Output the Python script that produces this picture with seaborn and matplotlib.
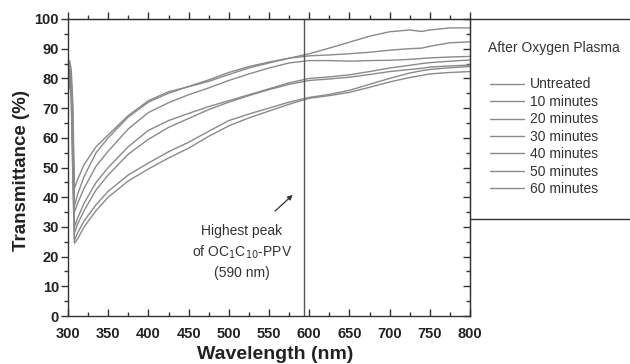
import numpy as np
import pandas as pd
import matplotlib
matplotlib.use("Agg")
import matplotlib.pyplot as plt
from matplotlib.lines import Line2D
from matplotlib.ticker import MultipleLocator
import seaborn as sns

wavelength = [300, 302, 304, 306, 308, 312, 320, 335, 350, 375, 400, 425, 450, 475,
              500, 525, 550, 575, 600, 625, 650, 675, 700, 725, 740, 750, 775, 800]

untreated = [84, 86, 83, 72, 43, 46, 51, 57, 61, 67.5, 72.5, 75.5, 77.2, 79,
             81.3, 83.5, 85.2, 86.8, 88.3, 90.2, 92.2, 94.2, 95.7, 96.3, 95.8, 96.3, 97, 97]
min10 = [80, 83, 79, 65, 37, 41, 47, 55, 60, 67, 72, 75, 77.3, 79.5,
         82, 84, 85.5, 86.8, 87.6, 87.9, 88.3, 88.8, 89.5, 90, 90.2, 90.8, 92, 92.3]
min20 = [78, 80, 76, 60, 35, 38, 43, 50.5, 55.5, 63, 68.5, 71.8, 74.5, 76.8,
         79.3, 81.5, 83.5, 85.2, 86, 86, 85.8, 86, 86.1, 86.4, 86.7, 86.9, 87.2, 87.4]
min30 = [85, 84, 80, 68, 30, 33, 38, 45, 50, 57, 62.5, 65.8, 68.2, 70.5,
         72.5, 74.5, 76.5, 78.5, 80, 80.5, 81.2, 82.3, 83.5, 84.4, 85, 85.3, 85.8, 86.2]
min40 = [79, 81, 77, 55, 28, 31, 35.5, 42.5, 47.5, 54.5, 59.5, 63.5, 66.5, 69.5,
         72, 74.2, 76.2, 78, 79.3, 79.8, 80.4, 81.3, 82.3, 83, 83.4, 83.8, 84.2, 84.5]
min50 = [76, 78, 74, 50, 25.5, 28, 32, 37.5, 42, 47.5, 51.5, 55.3, 58.5, 62.2,
         65.8, 68, 70, 72, 73.6, 74.6, 76, 78, 80, 81.8, 82.6, 83, 83.6, 84]
min60 = [82, 79, 75, 45, 24.5, 26, 30, 35.5, 40, 45.5, 49.5, 53.2, 56.5, 60.5,
         64, 66.7, 69, 71.3, 73.3, 74.2, 75.3, 77, 78.8, 80.3, 81, 81.5, 82, 82.3]

labels = ["Untreated", "10 minutes", "20 minutes", "30 minutes",
          "40 minutes", "50 minutes", "60 minutes"]
series = [untreated, min10, min20, min30, min40, min50, min60]

peak_nm = 594
x_ticks = [300, 350, 400, 450, 500, 550, 600, 650, 700, 750, 800]
y_ticks = [0, 10, 20, 30, 40, 50, 60, 70, 80, 90, 100]

rows = []
for lab, vals in zip(labels, series):
    for w, v in zip(wavelength, vals):
        rows.append({"Wavelength": w, "T": v, "Treatment": lab})
df = pd.DataFrame(rows)

sns.set_style("white")
plt.rcParams["font.family"] = ["Liberation Sans", "DejaVu Sans"]

W, H = 630, 364
fig = plt.figure(figsize=(W / 100, H / 100), dpi=100)
ax = fig.add_axes([68 / W, 1 - 316 / H, (470 - 68) / W, (316 - 19) / H])

palette = {lab: "#8a8a8a" for lab in labels}
sns.lineplot(data=df, x="Wavelength", y="T", hue="Treatment", palette=palette,
             hue_order=labels, estimator=None, sort=False, linewidth=1.0, ax=ax,
             legend=False)

ax.axvline(peak_nm, color="#555555", linewidth=1.0)

ax.set_xlim(300, 800)
ax.set_ylim(0, 100)
ax.set_xticks(x_ticks)
ax.set_yticks(y_ticks)
ax.xaxis.set_minor_locator(MultipleLocator(25))
ax.yaxis.set_minor_locator(MultipleLocator(5))
for sp in ax.spines.values():
    sp.set_color("#333333")
    sp.set_linewidth(1.0)

ax.tick_params(axis="x", which="both", bottom=True, top=False, direction="in",
               colors="#333333", labelcolor="#222222", labelsize=10.5, pad=8)
ax.tick_params(axis="y", which="both", left=True, right=False, direction="out",
               colors="#333333", labelcolor="#222222", labelsize=10.5, pad=1.5)
ax.tick_params(which="major", length=5, width=1)
ax.tick_params(which="minor", length=3, width=1)
for lab in ax.get_xticklabels() + ax.get_yticklabels():
    lab.set_fontweight("bold")

# top axis: ticks outward, no labels
secx = ax.secondary_xaxis("top")
secx.set_xticks(x_ticks)
secx.xaxis.set_minor_locator(MultipleLocator(25))
secx.tick_params(which="both", direction="out", labeltop=False, colors="#333333", width=1)
secx.tick_params(which="major", length=5)
secx.tick_params(which="minor", length=3)
secx.spines["top"].set_color("#333333")

# right axis: ticks inward, no labels
secy = ax.secondary_yaxis("right")
secy.set_yticks(y_ticks)
secy.yaxis.set_minor_locator(MultipleLocator(5))
secy.tick_params(which="both", direction="in", labelright=False, colors="#333333", width=1)
secy.tick_params(which="major", length=5)
secy.tick_params(which="minor", length=3)
secy.spines["right"].set_color("#333333")

ax.set_xlabel("Wavelength (nm)", fontsize=14, fontweight="bold", color="#222222")
ax.set_ylabel("Transmittance (%)", fontsize=13.5, fontweight="bold", color="#222222")
ax.xaxis.set_label_coords(0.515, -0.131)
ax.xaxis.label.set_va("center")
ax.yaxis.set_label_coords(-0.115, 0.49)
ax.yaxis.label.set_va("center")

ax.text(516, 21.5, "Highest peak\nof OC$_1$C$_{10}$-PPV\n(590 nm)", ha="center", va="center",
        fontsize=10, color="#333333", linespacing=1.45, transform=ax.transData,
        multialignment="center")
ax.annotate("", xy=(582, 41.4), xytext=(555, 34.7),
            arrowprops=dict(arrowstyle="-|>", color="#333333", lw=0.9,
                            mutation_scale=7))

# legend box
fig.add_artist(Line2D([470 / W, 1.0], [1 - 19 / H, 1 - 19 / H], color="#333333", lw=1.0))
fig.add_artist(Line2D([470 / W, 1.0], [1 - 219 / H, 1 - 219 / H], color="#333333", lw=1.0))
fig.text(488 / W, 1 - 48 / H, "After Oxygen Plasma", ha="left", va="center",
         fontsize=10, color="#333333")

handles = [Line2D([], [], color="#8a8a8a", lw=1.0) for _ in labels]
fig.legend(handles, labels, loc="upper left", bbox_to_anchor=(483 / W, 1 - 70.5 / H),
           frameon=False, fontsize=10, handlelength=2.45, handletextpad=0.45,
           labelspacing=0.25, borderpad=0, labelcolor="#333333")

fig.savefig("out.png", dpi=100)
